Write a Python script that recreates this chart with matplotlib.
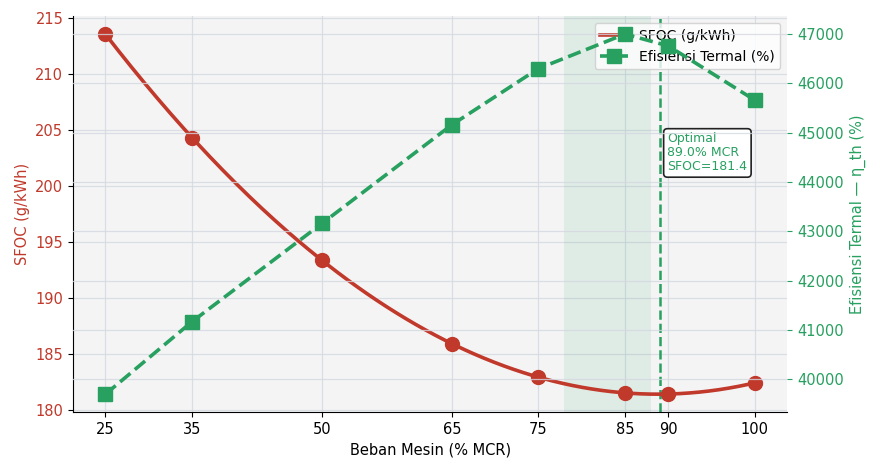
import numpy as np
import matplotlib
matplotlib.use("Agg")
import matplotlib.pyplot as plt

# data
beban = [25, 35, 50, 65, 75, 85, 90, 100]
sfoc = [213.6, 204.3, 193.4, 185.9, 182.9, 181.5, 181.4, 182.4]
efisiensi = [39700, 41170, 43160, 45160, 46300, 47000, 46760, 45660]
opt_beban = 89.0
opt_sfoc = 181.4
zona_optimal = (78, 88)

merah = '#c0392b'
hijau = '#27a060'

fig, ax = plt.subplots(figsize=(8.69, 4.59), dpi=100)
fig.subplots_adjust(left=0.084, right=0.906, top=0.965, bottom=0.102)
ax.set_facecolor('#f4f4f5')

# kurva halus SFOC dari fit polinomial data
koef = np.polyfit(beban, sfoc, 3)
xs = np.linspace(min(beban), max(beban), 200)
ax.plot(xs, np.polyval(koef, xs), color=merah, lw=2.6, zorder=3)
ax.plot(beban, sfoc, 'o', color=merah, ms=10, zorder=4)
l1, = ax.plot([], [], color=merah, lw=2.6, label='SFOC (g/kWh)')

ax.axvspan(*zona_optimal, color='#2e9e60', alpha=0.10, lw=0, zorder=1)
ax.axvline(opt_beban, color=hijau, ls='--', lw=1.8, zorder=2)

ax.set_xlabel('Beban Mesin (% MCR)', fontsize=10.5)
ax.set_ylabel('SFOC (g/kWh)', color=merah, fontsize=10.5)
ax.tick_params(axis='y', labelcolor=merah, labelsize=10.5)
ax.tick_params(axis='x', labelsize=10.5)
ax.set_xticks(beban)
ax.grid(True, color='#d5d8e0', lw=0.9, alpha=0.8)
ax.set_axisbelow(True)
ax.spines['top'].set_visible(False)
ax.spines['right'].set_visible(False)

ax2 = ax.twinx()
l2, = ax2.plot(beban, efisiensi, color=hijau, ls='--', lw=2.6, marker='s', ms=10,
               label='Efisiensi Termal (%)')
ax2.set_ylabel('Efisiensi Termal — η_th (%)', color=hijau, fontsize=10.5)
ax2.tick_params(axis='y', labelcolor=hijau, colors=hijau, labelsize=10.5)
ax2.grid(True, axis='y', color='#d5d8e0', lw=0.9, alpha=0.8)
for s in ['top', 'right', 'left', 'bottom']:
    ax2.spines[s].set_visible(False)

ax.legend(handles=[l1, l2], loc='upper right', fontsize=10, framealpha=0.8)

ax.text(opt_beban + 0.9, 204.8, f'Optimal\n{opt_beban:.1f}% MCR\nSFOC={opt_sfoc:.1f}',
        color=hijau, fontsize=9, va='top', ha='left', linespacing=1.1,
        bbox=dict(boxstyle='round,pad=0.3', fc='white', ec='#222222', lw=1.2), zorder=6)

plt.savefig('out.png', dpi=100)
